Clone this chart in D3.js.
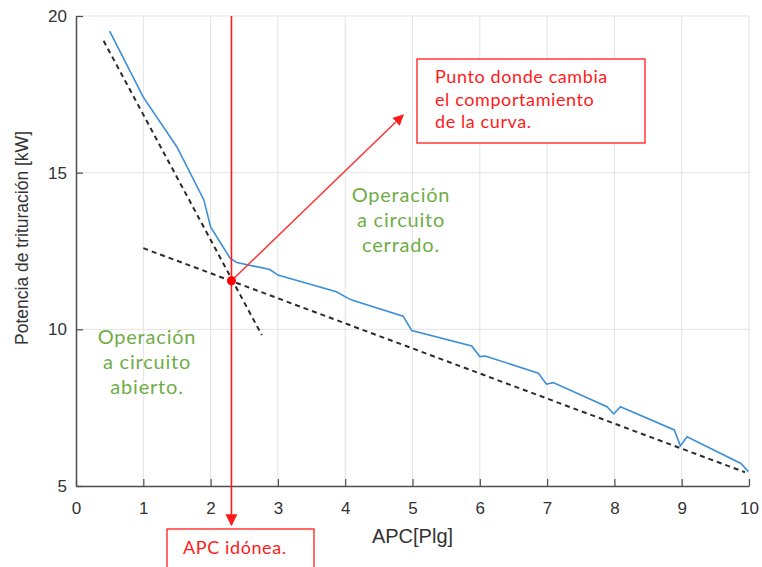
<!DOCTYPE html>
<head>
<meta charset="utf-8">
<style>
  body { margin: 0; background: #fff; }
  .tick text { font-family: "Liberation Sans", Arial, sans-serif; font-size: 17px; fill: #333; }
  .grid line { stroke: #e3e3e3; stroke-width: 1; }
  .note { font-family: Lato, "Open Sans", sans-serif; }
</style>
</head>
<body>
<svg width="762" height="567"></svg>
<script src="https://cdn.jsdelivr.net/npm/d3@7"></script>
<script>
// values
var curveX = [0.5, 1.0, 1.5, 1.9, 2.0, 2.29, 2.39, 2.88, 3.0, 3.05, 3.87, 4.05, 4.12, 4.86, 4.99, 5.88, 6.0, 6.08, 6.87, 6.99, 7.09, 7.89, 7.99, 8.09, 8.89, 8.98, 9.08, 9.88, 9.99];
var curveY = [19.52, 17.41, 15.82, 14.13, 13.27, 12.27, 12.13, 11.91, 11.73, 11.70, 11.2, 10.98, 10.92, 10.42, 9.96, 9.47, 9.13, 9.15, 8.6, 8.25, 8.3, 7.53, 7.30, 7.53, 6.79, 6.28, 6.57, 5.72, 5.46];
var fit1X = [0.41, 2.76], fit1Y = [19.21, 9.82];
var fit2X = [1.0, 9.94], fit2Y = [12.59, 5.44];
var kneeX = 2.31, kneeY = 11.55;
var arrowEnd = [4.86, 16.84];
var xTicks = [0, 1, 2, 3, 4, 5, 6, 7, 8, 9, 10];
var yTicks = [5, 10, 15, 20];

var svg = d3.select("svg"),
    margin = {left: 76, top: 16, right: 13, bottom: 81},
    width = 762 - margin.left - margin.right,
    height = 567 - margin.top - margin.bottom;

var defs = svg.append("defs");
defs.append("marker").attr("id", "head")
    .attr("viewBox", "0 0 10 10").attr("refX", 9).attr("refY", 5)
    .attr("markerWidth", 11).attr("markerHeight", 11)
    .attr("markerUnits", "userSpaceOnUse")
    .attr("orient", "auto")
  .append("path").attr("d", "M0,0L10,5L0,10z").attr("fill", "#ff1a1a");
defs.append("marker").attr("id", "head2")
    .attr("viewBox", "0 0 10 10").attr("refX", 9).attr("refY", 5)
    .attr("markerWidth", 12).attr("markerHeight", 14)
    .attr("markerUnits", "userSpaceOnUse")
    .attr("orient", "auto")
  .append("path").attr("d", "M0,0L10,5L0,10z").attr("fill", "#ff1a1a");

var g = svg.append("g").attr("transform", "translate(" + margin.left + "," + margin.top + ")");

var x = d3.scaleLinear().domain([0, 10]).range([0, width]);
var y = d3.scaleLinear().domain([5, 20]).range([height, 0]);

// grid
g.append("g").attr("class", "grid")
  .selectAll("line.v").data(xTicks.slice(1)).enter().append("line")
    .attr("x1", function(d) { return x(d); }).attr("x2", function(d) { return x(d); })
    .attr("y1", 0).attr("y2", height);
g.append("g").attr("class", "grid")
  .selectAll("line.h").data(yTicks.slice(1)).enter().append("line")
    .attr("x1", 0).attr("x2", width)
    .attr("y1", function(d) { return y(d); }).attr("y2", function(d) { return y(d); });

// axes
var xAxis = g.append("g").attr("transform", "translate(0," + height + ")")
    .call(d3.axisBottom(x).tickValues(xTicks).tickSizeInner(-7).tickSizeOuter(0).tickPadding(16));
var yAxis = g.append("g")
    .call(d3.axisLeft(y).tickValues(yTicks).tickSizeInner(-7).tickSizeOuter(0).tickPadding(9));
[xAxis, yAxis].forEach(function(a) {
  a.select(".domain").attr("stroke", "#4d4d4d").attr("stroke-width", 1.5);
  a.selectAll(".tick line").attr("stroke", "#4d4d4d").attr("stroke-width", 1.2);
});

// axis titles
svg.append("text").attr("x", margin.left + width / 2).attr("y", 543)
    .attr("text-anchor", "middle")
    .style("font-family", "Liberation Sans, Arial, sans-serif").style("font-size", "20px").attr("fill", "#333")
    .text("APC[Plg]");
svg.append("text").attr("transform", "translate(28,238) rotate(-90)")
    .attr("text-anchor", "middle")
    .style("font-family", "Liberation Sans, Arial, sans-serif").style("font-size", "17.5px").attr("fill", "#333")
    .text("Potencia de trituración [kW]");

// fitted dashed lines
[[fit1X, fit1Y], [fit2X, fit2Y]].forEach(function(f) {
  g.append("line")
    .attr("x1", x(f[0][0])).attr("y1", y(f[1][0]))
    .attr("x2", x(f[0][1])).attr("y2", y(f[1][1]))
    .attr("stroke", "#2b2b2b").attr("stroke-width", 2).attr("stroke-dasharray", "5,4");
});

// measured curve
var pts = curveX.map(function(d, i) { return [d, curveY[i]]; });
g.append("path").datum(pts)
  .attr("fill", "none").attr("stroke", "#3b8fd6").attr("stroke-width", 1.6)
  .attr("d", d3.line().x(function(d) { return x(d[0]); }).y(function(d) { return y(d[1]); }));

// red annotations
g.append("line")
  .attr("x1", x(kneeX)).attr("y1", y(20))
  .attr("x2", x(kneeX)).attr("y2", 525 - margin.top)
  .attr("stroke", "#ff1a1a").attr("stroke-width", 1.6).attr("marker-end", "url(#head2)");
g.append("line")
  .attr("x1", x(kneeX)).attr("y1", y(kneeY))
  .attr("x2", x(arrowEnd[0])).attr("y2", y(arrowEnd[1]))
  .attr("stroke", "#ff3333").attr("stroke-width", 1.5).attr("marker-end", "url(#head)");
g.append("circle").attr("cx", x(kneeX)).attr("cy", y(kneeY)).attr("r", 4.5).attr("fill", "#ff0000");

// note boxes
svg.append("rect").attr("x", 417).attr("y", 59).attr("width", 228).attr("height", 84)
  .attr("fill", "#fff").attr("stroke", "#ff1a1a").attr("stroke-width", 1.3);
var t1 = svg.append("text").attr("class", "note").attr("fill", "#ff1a1a")
  .style("font-size", "18px").style("letter-spacing", "0.6px");
["Punto donde cambia", "el comportamiento", "de la curva."].forEach(function(s, i) {
  t1.append("tspan").attr("x", 435).attr("y", 83 + i * 22.5).text(s);
});
svg.append("rect").attr("x", 167).attr("y", 529).attr("width", 147).attr("height", 50)
  .attr("fill", "#fff").attr("stroke", "#ff1a1a").attr("stroke-width", 1.3);
svg.append("text").attr("class", "note").attr("x", 183).attr("y", 554)
  .attr("fill", "#ff1a1a").style("font-size", "18px").style("letter-spacing", "0.6px").text("APC idónea.");

// region labels
function region(cx, y0, lines) {
  var t = svg.append("text").attr("class", "note").attr("fill", "#70ad47")
    .attr("text-anchor", "middle").style("font-size", "20px").style("letter-spacing", "0.8px");
  lines.forEach(function(s, i) { t.append("tspan").attr("x", cx).attr("y", y0 + i * 25).text(s); });
}
region(147, 344, ["Operación", "a circuito", "abierto."]);
region(401, 202, ["Operación", "a circuito", "cerrado."]);
</script>
</body>
